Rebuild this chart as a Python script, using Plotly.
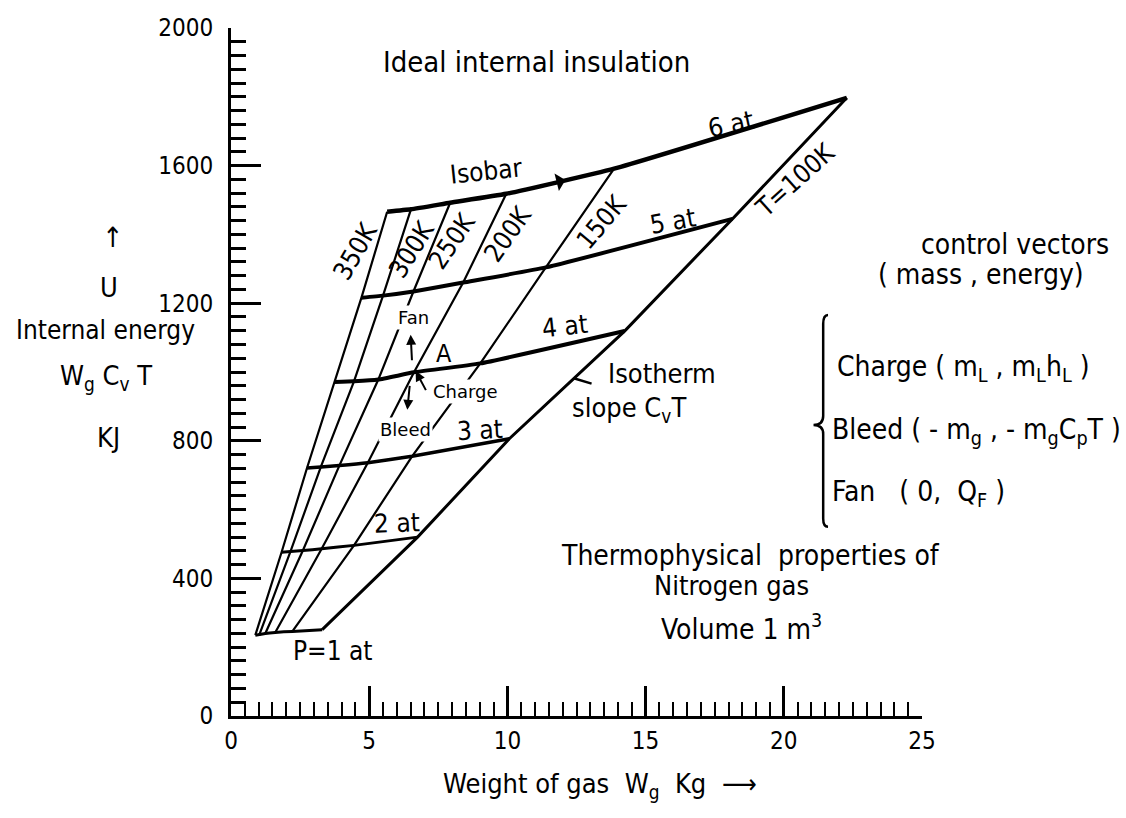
import plotly.graph_objects as go

# Nitrogen gas in a 1 m^3 vessel: state points (gas weight kg, internal energy kJ)
# along each isotherm, one point per isobar.
pressure_at = [1, 2, 3, 4, 5, 6]
isotherm_K = [350, 300, 250, 200, 150, 100]

w_350 = [0.88, 1.83, 2.75, 3.74, 4.72, 5.65]
u_350 = [235, 476, 721, 971, 1216, 1466]
w_300 = [1.03, 2.15, 3.25, 4.45, 5.50, 6.51]
u_300 = [237, 478, 724, 973, 1222, 1473]
w_250 = [1.24, 2.60, 3.92, 5.33, 6.60, 7.93]
u_250 = [240, 481, 728, 978, 1234, 1492]
w_200 = [1.60, 3.28, 4.95, 6.62, 8.40, 9.96]
u_200 = [243, 486, 736, 999, 1260, 1518]
w_150 = [2.22, 4.45, 6.55, 9.02, 11.39, 13.86]
u_150 = [246, 496, 755, 1025, 1304, 1591]
w_100 = [3.30, 6.75, 10.07, 14.24, 18.14, 22.28]
u_100 = [251, 520, 806, 1119, 1445, 1797]

mass_by_T = [w_350, w_300, w_250, w_200, w_150, w_100]
energy_by_T = [u_350, u_300, u_250, u_200, u_150, u_100]

# operating point A (4 at, 200 K) and the control vectors drawn from it
point_A = (6.62, 999)
fan_tip = (6.50, 1108)
charge_tail = (7.08, 943)
bleed_tip = (6.38, 890)

x_ticks = [0, 5, 10, 15, 20, 25]
y_ticks = [0, 400, 800, 1200, 1600, 2000]

NARROW = "DejaVu Sans Condensed, DejaVu Sans, sans-serif"
PLAIN = "DejaVu Sans, sans-serif"

fig = go.Figure()

# isotherms
for T, w, u in zip(isotherm_K, mass_by_T, energy_by_T):
    fig.add_trace(go.Scatter(
        x=w, y=u, mode="lines", hoverinfo="skip",
        line=dict(color="black", width=3 if T == 100 else 2.2),
    ))

# isobars
isobar_width = [3, 3, 3.5, 4, 4, 4.5]
for j, p in enumerate(pressure_at):
    fig.add_trace(go.Scatter(
        x=[w[j] for w in mass_by_T], y=[u[j] for u in energy_by_T],
        mode="lines", hoverinfo="skip",
        line=dict(color="black", width=isobar_width[j], shape="spline", smoothing=0.4),
    ))


def label(text, x, y, angle=0, size=26, family=NARROW, **kw):
    d = dict(text=text, x=x, y=y, xref="x", yref="y", showarrow=False,
             xanchor="center", yanchor="middle", textangle=angle,
             font=dict(family=family, size=size, color="black"))
    d.update(kw)
    return d


def paper(text, x, y, size=27, family=NARROW, **kw):
    d = dict(text=text, x=x, y=y, xref="paper", yref="paper", showarrow=False,
             xanchor="center", yanchor="middle",
             font=dict(family=family, size=size, color="black"))
    d.update(kw)
    return d


def arrow(tip, tail, width=2, head=2, size=1.0):
    return dict(x=tip[0], y=tip[1], ax=tail[0], ay=tail[1], xref="x", yref="y",
                axref="x", ayref="y", text="", showarrow=True, arrowhead=head,
                arrowsize=size, arrowwidth=width, arrowcolor="black", standoff=0)


annotations = [
    # isobar labels
    label("6 at", 18.1, 1720, angle=-12),
    label("5 at", 16.0, 1438, angle=-10),
    label("4 at", 12.1, 1135, angle=-6),
    label("3 at", 9.0, 832, angle=-3),
    label("2 at", 6.0, 562, angle=-2),
    label("P=1 at", 3.7, 188),
    label("Isobar", 9.24, 1583, angle=-6),
    # isotherm labels
    label("350K", 4.5, 1351, angle=-60),
    label("300K", 6.54, 1357, angle=-58),
    label("250K", 7.98, 1382, angle=-56),
    label("200K", 10.0, 1402, angle=-55),
    label("150K", 13.4, 1436, angle=-50),
    label("T=100K", 20.4, 1559, angle=-42),
    label("Isotherm", 15.6, 995, size=27),
    label("slope C<sub>v</sub>T", 14.4, 890, size=27),
    # operating point and control vectors
    label("A", point_A[0] + 1.08, 1055, size=25),
    label("Fan", 6.6, 1159, size=18, family=PLAIN, bgcolor="white"),
    label("Charge", 8.5, 944, size=18, family=PLAIN, bgcolor="white"),
    label("Bleed", 6.3, 833, size=18, family=PLAIN, bgcolor="white"),
    arrow(fan_tip, (6.55, 1030)),
    arrow((point_A[0] + 0.06, point_A[1] + 4), charge_tail),
    arrow(bleed_tip, (6.47, 964)),
    arrow((12.1, 1558), (11.3, 1542), width=2.5, head=1, size=1.2),
    arrow((12.4, 982), (13.1, 965), width=2.5, head=0),
    # free text
    paper("Ideal internal insulation", 0.4414, 0.9506, size=29),
    paper("control vectors", 1.1346, 0.6846, size=28),
    paper("( mass , energy)", 1.0854, 0.6424, size=28),
    paper("Charge ( m<sub>L</sub> , m<sub>L</sub>h<sub>L</sub> )", 0.874, 0.5058,
          size=28, xanchor="left"),
    paper("Bleed ( - m<sub>g</sub> , - m<sub>g</sub>C<sub>p</sub>T )", 0.8669, 0.4128,
          size=28, xanchor="left"),
    paper("Fan   ( 0,  Q<sub>F</sub> )", 0.8669, 0.3227, size=28, xanchor="left"),
    paper("Thermophysical  properties of", 0.7525, 0.2326, size=28),
    paper("Nitrogen gas", 0.7250, 0.1904, size=27),
    paper("Volume 1 m<sup>3</sup>", 0.7395, 0.128, size=28),
    # axis titles
    paper("↑", -0.1708, 0.6962, size=28),
    paper("U", -0.1766, 0.6221),
    paper("Internal energy", -0.1810, 0.5610, size=26),
    paper("W<sub>g</sub> C<sub>v</sub> T", -0.1809, 0.4913),
    paper("KJ", -0.178, 0.4055),
    paper("Weight of gas  W<sub>g</sub>  Kg  ⟶", 0.534, -0.1003),
]

# control-vector brace
brace = dict(
    type="path", xref="paper", yref="paper",
    path="M 0.864,0.583 Q 0.857,0.583 0.857,0.570 L 0.857,0.436 "
         "Q 0.857,0.423 0.843,0.423 Q 0.857,0.423 0.857,0.410 "
         "L 0.857,0.287 Q 0.857,0.275 0.864,0.275",
    line=dict(color="black", width=2.5),
)

axis_common = dict(
    showgrid=False, zeroline=False, showline=True, linecolor="black", linewidth=3,
    ticks="inside", ticklen=30, tickwidth=2.5, tickcolor="black",
    tickfont=dict(family=NARROW, size=24, color="black"),
)

fig.update_layout(
    width=1126, height=818,
    margin=dict(l=231, r=204, t=28, b=102),
    paper_bgcolor="white", plot_bgcolor="white",
    showlegend=False,
    annotations=annotations,
    shapes=[brace],
    xaxis=dict(range=[0, 25], tickvals=x_ticks, ticklabelstandoff=1,
               minor=dict(dtick=0.5, ticks="inside", ticklen=14, tickwidth=2, tickcolor="black"),
               **axis_common),
    yaxis=dict(range=[0, 2000], tickvals=y_ticks, ticklabelstandoff=10,
               minor=dict(dtick=40, ticks="inside", ticklen=15, tickwidth=2.5, tickcolor="black"),
               **axis_common),
)

fig.write_html("out.html")
